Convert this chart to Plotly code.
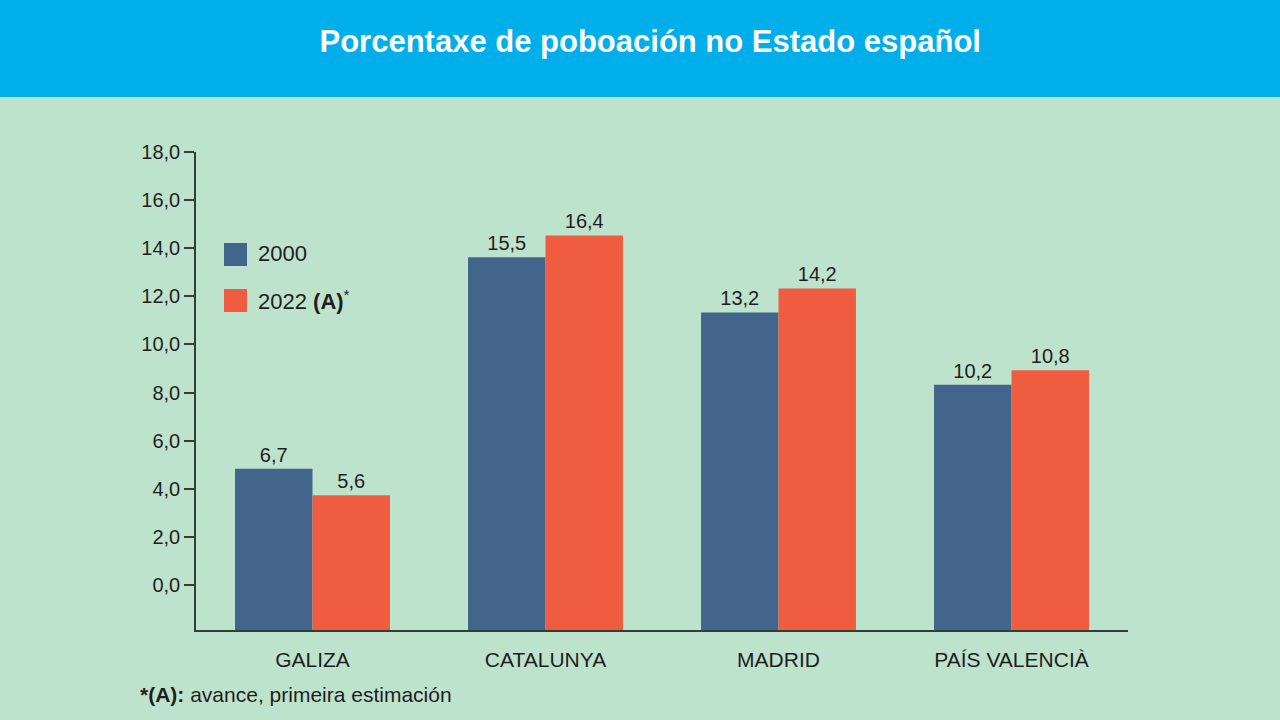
import plotly.graph_objects as go

categories = ["GALIZA", "CATALUNYA", "MADRID", "PAÍS VALENCIÀ"]
series_names = ["2000", "2022 (A)*"]
values_2000 = [6.7, 15.5, 13.2, 10.2]
values_2022 = [5.6, 16.4, 14.2, 10.8]
tick_labels = [0, 2, 4, 6, 8, 10, 12, 14, 16, 18]

# The original chart's tick labels are drawn shifted relative to the bar scale
TICK_OFFSET = 1.87
Y_MAX = 19.87

BG = "#BEE3CD"
HEADER = "#00AEEA"
BLUE = "#43658C"
ORANGE = "#F05C40"
INK = "#1E1E1E"
AXIS = "#2C4238"
FONT = "'Liberation Sans', Arial, sans-serif"

fig = go.Figure()
for name, vals, col in [(series_names[0], values_2000, BLUE), (series_names[1], values_2022, ORANGE)]:
    fig.add_trace(go.Bar(
        x=categories, y=vals, name=name, marker=dict(color=col, line=dict(width=0)),
        text=vals, texttemplate="%{y:.1f}", textposition="outside",
        textfont=dict(size=20, color=INK, family=FONT), cliponaxis=False,
        showlegend=False,
    ))

W, H = 1280, 720
L, R, T, B = 196, 152, 152, 90
pw, ph = W - L - R, H - T - B

def px(x):
    return (x - L) / pw

def py(y):
    return (H - B - y) / ph

shapes = [
    dict(type="rect", xref="paper", yref="paper", x0=px(-10), x1=px(W + 10), y0=py(97), y1=py(-10),
         fillcolor=HEADER, line=dict(width=0), layer="below"),
    dict(type="rect", xref="paper", yref="paper", x0=px(224), x1=px(247), y0=py(266), y1=py(243),
         fillcolor=BLUE, line=dict(width=0)),
    dict(type="rect", xref="paper", yref="paper", x0=px(224), x1=px(247), y0=py(312), y1=py(289),
         fillcolor=ORANGE, line=dict(width=0)),
]

annotations = [
    dict(text="2000", xref="paper", yref="paper", x=px(256), y=py(254), xanchor="left", yanchor="middle",
         showarrow=False, font=dict(size=22, color=INK, family=FONT)),
    dict(text="2022 <b>(A)</b><sup>*</sup>", xref="paper", yref="paper", x=px(256), y=py(300), xanchor="left",
         yanchor="middle", showarrow=False, font=dict(size=22, color=INK, family=FONT)),
    dict(text="<b>*(A):</b> avance, primeira estimación", xref="paper", yref="paper", x=px(138), y=py(694),
         xanchor="left", yanchor="middle", showarrow=False, font=dict(size=21, color=INK, family=FONT)),
]

fig.update_layout(
    width=W, height=H,
    margin=dict(l=L, r=R, t=T, b=B, autoexpand=False),
    paper_bgcolor=BG, plot_bgcolor=BG,
    separators=",.",
    barmode="group", bargap=0.335, bargroupgap=0,
    title=dict(text="<b>Porcentaxe de poboación no Estado español</b>", x=0.508, xanchor="center",
               y=1 - 41 / H, yanchor="middle", yref="container",
               font=dict(size=31, color="white", family=FONT)),
    shapes=shapes, annotations=annotations,
    xaxis=dict(showline=True, linecolor=AXIS, linewidth=1.5, ticks="", showgrid=False, zeroline=False,
               range=[-0.5, 3.5], ticklabelstandoff=10,
               tickfont=dict(size=21, color=INK, family=FONT)),
    yaxis=dict(showline=True, linecolor=AXIS, linewidth=1.5, showgrid=False, zeroline=False,
               range=[0, Y_MAX], ticks="outside", ticklen=10, tickcolor=AXIS, tickwidth=1.5,
               tickvals=[t + TICK_OFFSET for t in tick_labels],
               ticktext=[f"{t:.1f}".replace(".", ",") for t in tick_labels],
               tickfont=dict(size=20, color=INK, family=FONT)),
)

fig.write_html("out.html")
